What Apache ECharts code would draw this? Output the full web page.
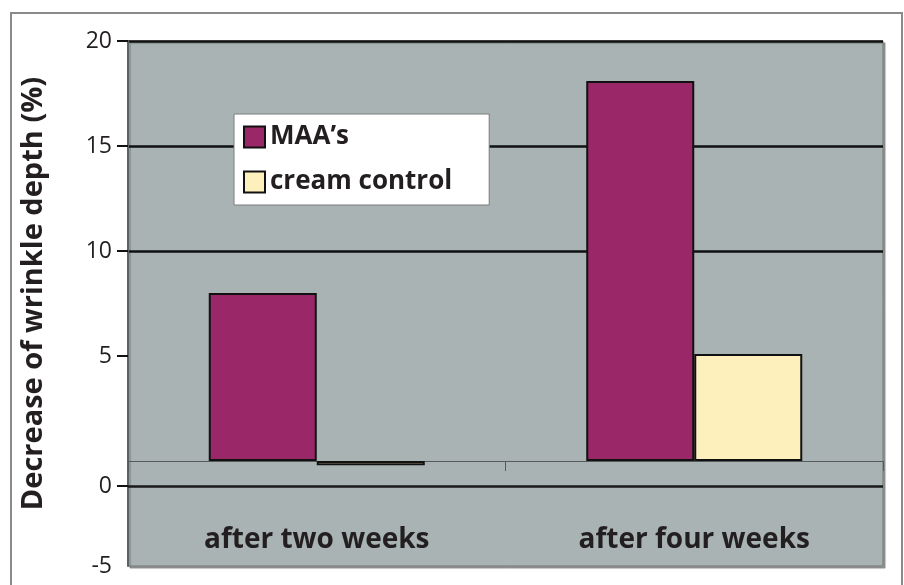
<!DOCTYPE html>
<html>
<head>
<meta charset="utf-8">
<script src="https://cdn.jsdelivr.net/npm/echarts@6/dist/echarts.min.js"></script>
<style>
  html, body { margin: 0; padding: 0; background: #fff; }
  #chart { width: 904px; height: 585px; }
</style>
</head>
<body>
<div id="chart"></div>
<script>
// values
var categories = ['after two weeks', 'after four weeks'];
var maa = [8, 18.1];
var creamControl = [-0.2, 5.1];
var seriesNames = ["MAA\u2019s", 'cream control'];
// y ticks as printed; the picture puts its "0" line a little below the real zero
var zeroLineValue = -1.2;
var yTickValues = [zeroLineValue, 5, 10, 15, 20];
var yLabelValues = [-5, zeroLineValue, 5, 10, 15, 20];

var chart = echarts.init(document.getElementById('chart'));
var font = 'Open Sans';
var ink = '#231f20';

var option = {
  backgroundColor: '#ffffff',
  animation: false,
  graphic: [{
    type: 'rect',
    z: -10,
    shape: { x: 11, y: 13, width: 891, height: 600 },
    style: { fill: 'none', stroke: '#8a8a8a', lineWidth: 2 }
  }],
  legend: {
    left: 234,
    top: 114,
    orient: 'vertical',
    backgroundColor: '#ffffff',
    borderColor: '#7a7a7a',
    borderWidth: 1,
    padding: [10, 37, 10, 9],
    itemWidth: 21,
    itemHeight: 21,
    itemGap: 19,
    icon: 'rect',
    textStyle: { fontFamily: font, fontWeight: 'bold', fontSize: 26, color: ink },
    data: seriesNames
  },
  grid: {
    left: 128,
    right: 21,
    top: 41,
    bottom: 19,
    containLabel: false,
    outerBoundsMode: 'none',
    show: true,
    backgroundColor: '#a9b3b3',
    borderColor: '#6d7373',
    borderWidth: 1,
    shadowColor: 'rgba(0,0,0,0.35)',
    shadowOffsetX: 2,
    shadowOffsetY: 2,
    shadowBlur: 1
  },
  xAxis: [{
    // category names, written inside the plot along its bottom edge
    type: 'category',
    data: categories,
    position: 'bottom',
    axisLine: { show: false, onZero: false },
    axisTick: { show: false },
    axisLabel: { inside: true, margin: 12, fontFamily: font, fontWeight: 'bold', fontSize: 28, color: ink },
    splitLine: { show: false }
  }, {
    // baseline at zero with the tick between the groups
    type: 'category',
    data: categories,
    position: 'bottom',
    axisLine: { show: true, onZero: true, lineStyle: { color: '#555b5b', width: 1 } },
    axisTick: { show: true, length: 10, lineStyle: { color: '#555b5b' } },
    axisLabel: { show: false },
    splitLine: { show: false }
  }],
  yAxis: {
    type: 'value',
    min: -5,
    max: 20,
    interval: 5,
    name: 'Decrease of wrinkle depth (%)',
    nameLocation: 'middle',
    nameRotate: 90,
    nameGap: 80,
    nameTextStyle: { fontFamily: font, fontWeight: 'bold', fontSize: 29, color: ink, padding: [0, 0, 0, 20] },
    axisLine: { show: true, lineStyle: { color: '#5c6262', width: 2 } },
    axisTick: { show: true, length: 11, customValues: yTickValues, lineStyle: { color: '#111', width: 2 } },
    axisLabel: {
      margin: 16,
      customValues: yLabelValues,
      fontFamily: font,
      fontSize: 23,
      color: ink,
      formatter: function (v) { return v === zeroLineValue ? '0' : String(v); }
    },
    splitLine: {
      show: true,
      lineStyle: { color: ['transparent', 'transparent', '#111', '#111', '#111', '#111'], width: 2.5 }
    }
  },
  series: [{
    name: seriesNames[0],
    type: 'bar',
    data: maa,
    barWidth: 108,
    barGap: '0%',
    itemStyle: { color: '#9a2868', borderColor: '#111', borderWidth: 2 },
    markLine: {
      silent: true,
      symbol: 'none',
      lineStyle: { color: '#1a1a1a', width: 2.5, type: 'solid' },
      label: { show: false },
      data: [{ yAxis: zeroLineValue }]
    }
  }, {
    name: seriesNames[1],
    type: 'bar',
    data: creamControl,
    barWidth: 108,
    barGap: '0%',
    itemStyle: { color: '#fdf0bd', borderColor: '#111', borderWidth: 2 }
  }]
};

chart.setOption(option);
</script>
</body>
</html>
